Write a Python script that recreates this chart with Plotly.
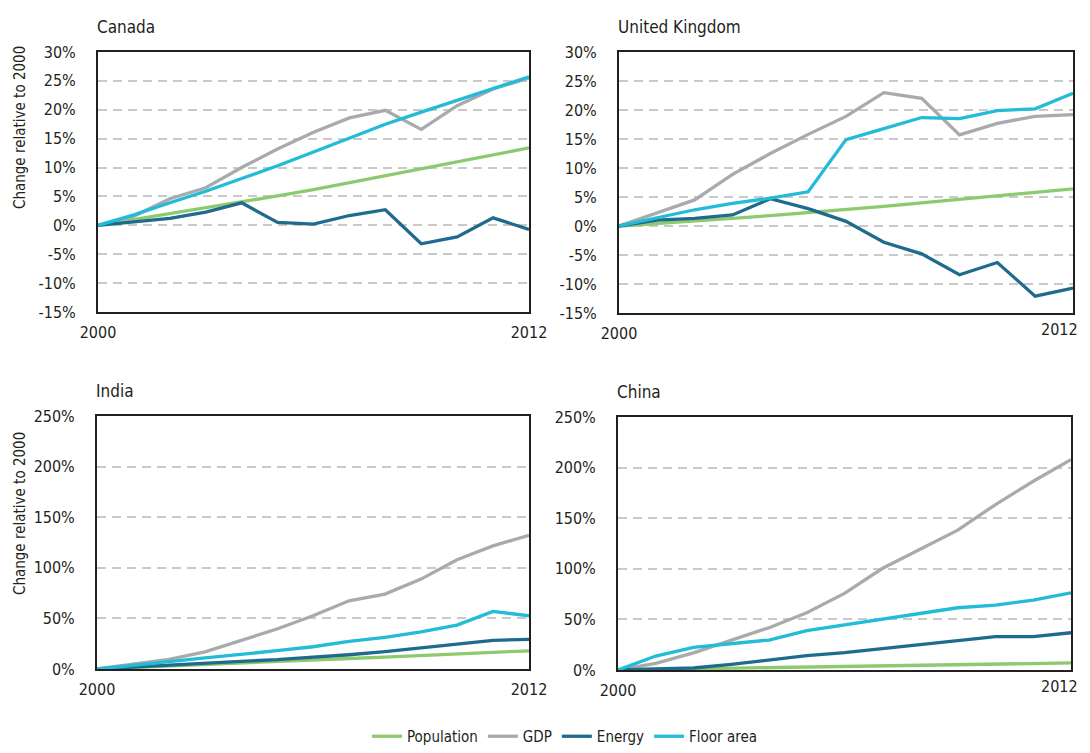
import plotly.graph_objects as go

years = list(range(2000, 2013))
series_names = ["Population", "GDP", "Energy", "Floor area"]
colors = ["#8DC96F", "#A8AAAD", "#1F6B8E", "#22BCD6"]

canada_population = [0, 1.0, 2.0, 3.0, 4.0, 5.1, 6.2, 7.4, 8.6, 9.8, 11.0, 12.2, 13.4]
canada_gdp = [0, 1.6, 4.6, 6.5, 10.0, 13.2, 16.1, 18.6, 19.9, 16.6, 20.7, 23.6, 25.5]
canada_energy = [0, 0.6, 1.2, 2.3, 3.9, 0.5, 0.2, 1.7, 2.7, -3.2, -2.0, 1.3, -0.7]
canada_floor = [0, 1.8, 3.9, 5.9, 8.1, 10.3, 12.7, 15.1, 17.5, 19.6, 21.6, 23.7, 25.7]

uk_population = [0, 0.4, 0.9, 1.3, 1.8, 2.3, 2.8, 3.4, 4.0, 4.6, 5.2, 5.8, 6.4]
uk_gdp = [0, 2.2, 4.5, 8.9, 12.5, 15.8, 18.9, 23.0, 22.0, 15.7, 17.7, 18.9, 19.2]
uk_energy = [0, 1.0, 1.3, 1.9, 4.7, 3.0, 0.8, -2.8, -4.8, -8.4, -6.3, -12.1, -10.7]
uk_floor = [0, 1.4, 2.8, 3.9, 4.8, 5.9, 14.9, 16.8, 18.7, 18.5, 19.9, 20.2, 22.9]

india_population = [0, 1.6, 3.1, 4.6, 6.1, 7.6, 9.0, 10.4, 11.8, 13.2, 14.6, 16.2, 18.0]
india_gdp = [0, 5.0, 9.5, 17.0, 28.0, 39.5, 52.6, 67.4, 74.0, 88.8, 108.0, 121.7, 132.2]
india_energy = [0, 2.0, 4.3, 5.9, 7.6, 9.2, 11.5, 14.1, 17.1, 20.7, 25.0, 28.3, 29.3]
india_floor = [0, 3.3, 7.2, 10.9, 14.1, 18.1, 22.0, 27.3, 31.3, 36.8, 43.4, 56.9, 52.6]

china_population = [0, 0.6, 1.2, 1.8, 2.4, 3.0, 3.5, 4.0, 4.6, 5.1, 5.6, 6.1, 7.0]
china_gdp = [0, 6.6, 17.0, 29.0, 41.8, 56.6, 75.7, 100.3, 119.4, 138.2, 163.5, 186.5, 207.9]
china_energy = [0, 0.7, 2.0, 5.6, 10.2, 14.1, 17.1, 21.0, 24.7, 28.3, 32.9, 32.9, 36.8]
china_floor = [0, 13.8, 22.4, 26.3, 29.6, 38.8, 44.4, 50.0, 55.3, 61.5, 64.1, 69.1, 76.3]

small_ticks = [-15, -10, -5, 0, 5, 10, 15, 20, 25, 30]
large_ticks = [0, 50, 100, 150, 200, 250]
x_ticks = [2000, 2012]

panels = [
    ("Canada", [canada_population, canada_gdp, canada_energy, canada_floor], small_ticks),
    ("United Kingdom", [uk_population, uk_gdp, uk_energy, uk_floor], small_ticks),
    ("India", [india_population, india_gdp, india_energy, india_floor], large_ticks),
    ("China", [china_population, china_gdp, china_energy, china_floor], large_ticks),
]

# page body has an 8px margin, so the figure is placed at (8, 8) in the window
OFF = 8
W, H = 1090 - OFF, 753 - OFF


def px(x):
    return (x - OFF) / W


def py(y):
    return 1 - (y - OFF) / H


# pixel boxes in window coords: left, right, top, bottom
boxes = [(98, 529, 52, 312), (619, 1073, 52, 313), (97, 529, 416, 669), (618, 1071, 417, 670)]

FAM = "DejaVu Sans Condensed"
TXT = "#231F20"


def fnt(size):
    return dict(family=FAM, size=size, color=TXT)


fig = go.Figure()
annotations = []
layout_axes = {}

for i, (name, data, yt) in enumerate(panels):
    idx = "" if i == 0 else str(i + 1)
    right_col = (i % 2 == 1)
    for j, vals in enumerate(data):
        fig.add_trace(go.Scatter(
            x=years, y=vals, mode="lines", name=series_names[j],
            line=dict(color=colors[j], width=3.3),
            xaxis="x" + idx, yaxis="y" + idx,
            showlegend=(i == 0), legendgroup=series_names[j],
        ))
    l, r, t, b = boxes[i]
    xt_text = [str(v) for v in x_ticks]
    if right_col:
        # last label would be clipped at the page edge: place it right-aligned instead
        xt_text[-1] = ""
        annotations.append(dict(
            text=str(x_ticks[-1]), x=px(1080), y=py(b + 5), xref="paper", yref="paper",
            xanchor="right", yanchor="top", showarrow=False, font=fnt(16),
        ))
    layout_axes["xaxis" + idx] = dict(
        domain=[px(l), px(r)], anchor="y" + idx, range=[2000, 2012],
        tickvals=x_ticks, ticktext=xt_text,
        showgrid=False, zeroline=False, showline=True, mirror=True,
        linecolor=TXT, linewidth=2, ticks="", ticklabelstandoff=5,
        ticklabeloverflow="allow",
        tickfont=fnt(16), automargin=False,
    )
    layout_axes["yaxis" + idx] = dict(
        domain=[py(b), py(t)], anchor="x" + idx, range=[yt[0], yt[-1]],
        tickvals=yt, ticktext=[f"{v}%" for v in yt],
        showgrid=True, gridcolor="#C9C9C9", gridwidth=1.5, griddash="9px,6px",
        zeroline=False, showline=True, mirror=True,
        linecolor=TXT, linewidth=2, ticks="", ticklabelstandoff=17,
        ticklabeloverflow="allow",
        tickfont=fnt(16), automargin=False,
    )
    annotations.append(dict(
        text=name, x=px(l - 3), y=py(t - 13), xref="paper", yref="paper",
        xanchor="left", yanchor="bottom", showarrow=False,
        font=fnt(17),
    ))

for yc in (128, 514):
    annotations.append(dict(
        text="Change relative to 2000", x=px(20), y=py(yc), xref="paper", yref="paper",
        xanchor="center", yanchor="middle", textangle=-90, showarrow=False,
        font=fnt(15),
    ))

fig.update_layout(
    width=W, height=H,
    margin=dict(l=0, r=0, t=0, b=0, autoexpand=False),
    paper_bgcolor="white", plot_bgcolor="white",
    showlegend=True,
    legend=dict(orientation="h", x=px(565), xanchor="center", y=0, yanchor="bottom",
                font=fnt(15), itemwidth=30,
                tracegroupgap=0, bgcolor="rgba(0,0,0,0)"),
    annotations=annotations,
    **layout_axes,
)

fig.write_html("out.html")
